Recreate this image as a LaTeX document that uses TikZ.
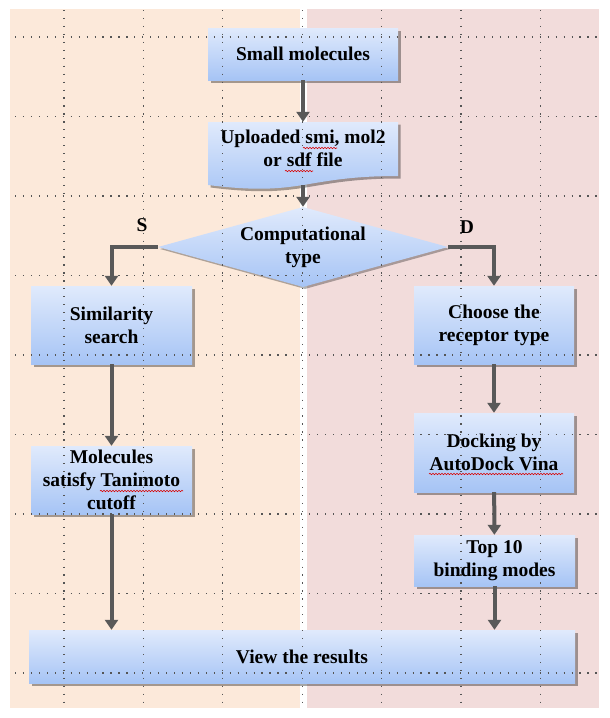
\documentclass[tikz,border=0pt]{standalone}
\usepackage{fontspec}
\setmainfont{Liberation Serif}
\usetikzlibrary{shapes.geometric,arrows.meta,shadows,decorations.pathmorphing}
\definecolor{peach}{RGB}{252,233,218}
\definecolor{rosy}{RGB}{242,220,219}
\definecolor{boxtop}{RGB}{224,234,252}
\definecolor{boxbot}{RGB}{166,196,245}
\definecolor{arrowgray}{RGB}{89,89,89}
\definecolor{griddot}{RGB}{85,85,85}
\tikzset{
 box/.style={rectangle, inner sep=0pt, top color=boxtop, bottom color=boxbot, draw=none,
   drop shadow={shadow xshift=2.5pt, shadow yshift=-2.5pt, opacity=0.35, fill=black}},
 lbl/.style={font=\bfseries\fontsize{19.5}{23}\selectfont, align=center, inner sep=0pt},
 arr/.style={line width=4pt, draw=arrowgray, -{Triangle[width=13pt,length=10pt]}},
 gridline/.style={draw=griddot, line width=1.2pt, dash pattern=on 1.2pt off 6.75pt},
 squiggle/.style={draw=red!85!black, line width=0.6pt, decorate,
   decoration={snake, segment length=3pt, amplitude=0.7pt}},
}
\begin{document}
\begin{tikzpicture}[x=1pt,y=-1pt]
\useasboundingbox (0,0) rectangle (610,718);
\fill[white] (0,0) rectangle (610,718);
\fill[peach] (10,9) rectangle (300,708);
\fill[rosy] (307,9) rectangle (599,708);

% boxes
\node[box, minimum width=190pt, minimum height=52pt] (small) at (303,54) {};
\path[top color=boxtop, bottom color=boxbot,
   drop shadow={shadow xshift=2.5pt, shadow yshift=-2.5pt, opacity=0.35, fill=black}]
   (208,122) -- (398,122) -- (398,176) .. controls (303,176) and (303,197) .. (208,185) -- cycle;
\node[minimum width=190pt, minimum height=63pt, inner sep=0pt] (upload) at (303,153.5) {};
\node[diamond, minimum width=290pt, minimum height=80pt, inner sep=0pt,
   top color=boxtop, bottom color=boxbot,
   drop shadow={shadow xshift=2pt, shadow yshift=-2pt, opacity=0.3, fill=black}] (dia) at (303,247) {};
\node[box, minimum width=161pt, minimum height=78pt] (sim) at (111.5,325) {};
\node[box, minimum width=160pt, minimum height=78pt] (choose) at (494,325) {};
\node[box, minimum width=161pt, minimum height=68pt] (mol) at (111.5,480) {};
\node[box, minimum width=160pt, minimum height=79pt] (dock) at (494,452.5) {};
\node[box, minimum width=161pt, minimum height=51pt] (top10) at (494.5,560.5) {};
\node[box, minimum width=546pt, minimum height=53pt] (view) at (302,656.5) {};

% dotted grid
\foreach \k in {0,...,6} {
  \draw[gridline] ({64+79.4*\k},10) -- ({64+79.4*\k},708);
}
\foreach \k in {0,...,8} {
  \draw[gridline] (15,{37+79.5*\k}) -- (598,{37+79.5*\k});
}

% texts
\node[lbl] (smallT) at (small) {Small molecules};
\node[lbl] (uploadT) at (303,148) {Uploaded smi, mol2\\or sdf file};
\node[lbl] (diaT) at (303,247) {Computational\\type};
\node[lbl] (simT) at (sim) {Similarity\\search};
\node[lbl] (chooseT) at (choose) {Choose the\\receptor type};
\node[lbl] (molT) at (mol) {Molecules\\satisfy Tanimoto\\cutoff};
\node[lbl] (dockT) at (dock) {Docking by\\AutoDock Vina};
\node[lbl] (top10T) at (top10) {Top 10\\binding modes};
\node[lbl] (viewT) at (view) {View the results};
\node[lbl] (sLab) at (142,225) {S};
\node[lbl] (dLab) at (467,227) {D};

% spell-check underlines
\draw[squiggle] (303,148) -- (337,148);
\draw[squiggle] (285,171) -- (313,171);
\draw[squiggle] (100,491) -- (183,491);
\draw[squiggle] (429,474) -- (563,474);

% connectors
\draw[arr] (small.south) -- (upload.north);
\draw[arr] (upload.south) -- (dia.north);
\draw[arr] (dia.west) -| (sim.north);
\draw[arr] (dia.east) -| (choose.north);
\draw[arr] (sim) -- (mol);
\draw[arr] (choose) -- (dock);
\draw[arr] (dock) -- (top10);
\draw[arr] (mol.south) -- (mol.south |- view.north);
\draw[arr] (top10.south) -- (top10.south |- view.north);
\end{tikzpicture}
\end{document}
